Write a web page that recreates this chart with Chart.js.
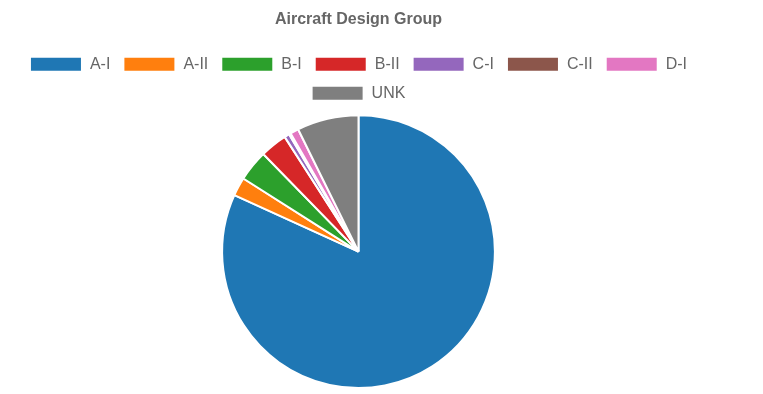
<!DOCTYPE html>
<html>
<head>
<meta charset="utf-8">
<script src="https://cdn.jsdelivr.net/npm/chart.js@4/dist/chart.umd.min.js"></script>
<style>
  html, body { margin: 0; padding: 0; background: #fff; }
  #wrap { width: 763px; height: 394px; position: relative; }
</style>
</head>
<body>
<div id="wrap"><canvas id="chart"></canvas></div>
<script>
// Share of operations by aircraft design group (percent)
const categories = ['A-I', 'A-II', 'B-I', 'B-II', 'C-I', 'C-II', 'D-I', 'UNK'];
const shares = [81.8, 2.2, 3.7, 3.2, 0.6, 0.2, 1.0, 7.3];
const colors = ['#1f77b4', '#ff7f0e', '#2ca02c', '#d62728', '#9467bd', '#8c564b', '#e377c2', '#7f7f7f'];
const chartTitle = 'Aircraft Design Group';

Chart.defaults.font.family = "'Liberation Sans', Arial, Helvetica, sans-serif";
Chart.defaults.color = '#666';

// Adds a little extra space between the legend and the pie
const legendGap = {
  id: 'legendGap',
  beforeInit(chart) {
    const origFit = chart.legend.fit;
    chart.legend.fit = function () {
      origFit.call(this);
      this.height += 3;
    };
  }
};

new Chart(document.getElementById('chart'), {
  type: 'pie',
  data: {
    labels: categories,
    datasets: [{
      data: shares,
      backgroundColor: colors,
      borderColor: '#fff',
      borderWidth: 2
    }]
  },
  options: {
    responsive: true,
    maintainAspectRatio: false,
    animation: false,
    layout: { padding: { right: 46, bottom: 5 } },
    plugins: {
      title: {
        display: true,
        text: chartTitle,
        color: '#666',
        font: { size: 16, weight: 'bold' },
        padding: { top: 10, bottom: 14 }
      },
      legend: {
        position: 'top',
        labels: {
          boxWidth: 52,
          boxHeight: 15,
          padding: 13,
          color: '#666',
          font: { size: 16 }
        }
      },
      tooltip: { enabled: false }
    }
  },
  plugins: [legendGap]
});
</script>
</body>
</html>
